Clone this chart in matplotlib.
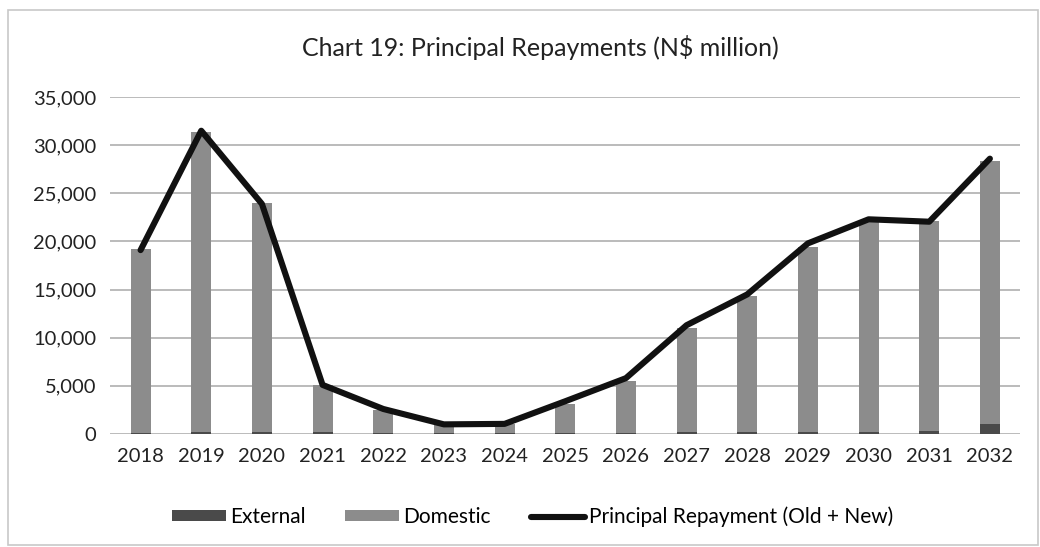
import matplotlib

matplotlib.use("Agg")
import matplotlib.pyplot as plt
from matplotlib.patches import Rectangle

years = [str(y) for y in range(2018, 2033)]
external = [150, 200, 200, 250, 150, 100, 100, 150, 150, 200, 200, 250, 250, 300, 1000]
domestic = [19050, 31200, 23800, 4850, 2350, 800, 900, 2950, 5350, 10800, 14100, 19150, 21750, 21800, 27400]
principal = [19100, 31500, 23900, 5100, 2600, 1000, 1050, 3400, 5800, 11300, 14500, 19800, 22300, 22050, 28600]

plt.rcParams["font.family"] = ["Lato", "DejaVu Sans"]

fig = plt.figure(figsize=(10.4, 5.47), dpi=100)
fig.patch.set_facecolor("white")
fig.patches.append(Rectangle((0.008, 0.004), 0.99, 0.978, transform=fig.transFigure,
                             fill=False, edgecolor="#c8c8c8", linewidth=1.2))

ax = fig.add_axes([0.106, 0.2066, 0.875, 0.616])
x = range(len(years))
b_ext = ax.bar(x, external, width=0.33, color="#4a4a4a", label="External", zorder=2)
b_dom = ax.bar(x, domestic, width=0.33, bottom=external, color="#8c8c8c", label="Domestic", zorder=2)
ln, = ax.plot(x, principal, color="#111111", linewidth=4.4, solid_joinstyle="round",
              solid_capstyle="round", label="Principal Repayment (Old + New)", zorder=3)

ax.set_xlim(-0.5, len(years) - 0.5)
ax.set_ylim(0, 35000)
ax.set_yticks(range(0, 35001, 5000))
ax.set_yticklabels([f"{v:,}" for v in range(0, 35001, 5000)], fontsize=14.5, color="#222222")
ax.set_xticks(list(x))
ax.set_xticklabels(years, fontsize=14.5, color="#222222")
ax.tick_params(length=0, pad=10)
ax.grid(axis="y", color="#a8a8a8", linewidth=1.1, zorder=0)
ax.set_axisbelow(True)
for s in ax.spines.values():
    s.set_visible(False)

fig.text(0.52, 0.913, "Chart 19: Principal Repayments (N$ million)", ha="center", va="center",
         fontsize=18, color="#222222")

fig.legend(handles=[b_ext, b_dom, ln], loc="center", bbox_to_anchor=(0.512, 0.055), ncol=3,
           frameon=False, fontsize=15, handlelength=2.6, handleheight=0.45,
           columnspacing=1.9, handletextpad=0.2)

fig.savefig("out.png", dpi=100, facecolor="white")
